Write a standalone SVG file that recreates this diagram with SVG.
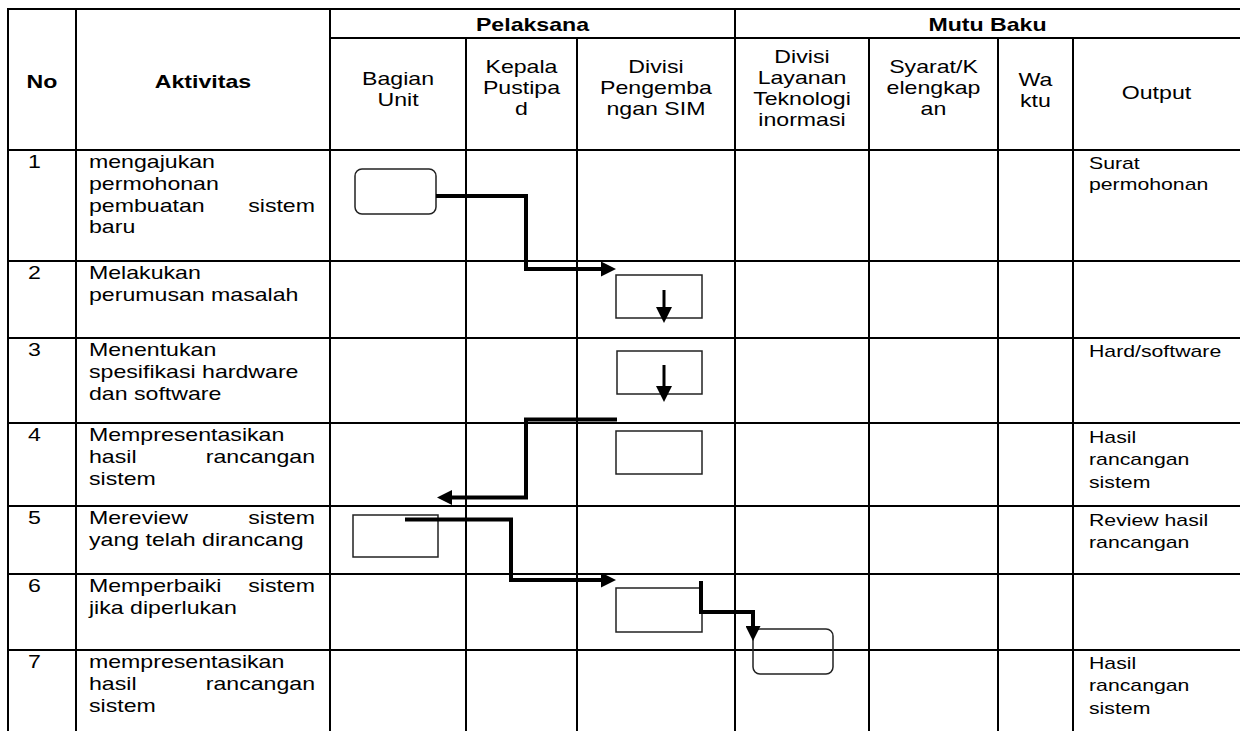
<svg xmlns="http://www.w3.org/2000/svg" width="1240" height="731" viewBox="0 0 1240 731">
  <style>
    text { font-family: "Liberation Sans", Arial, sans-serif; fill: #000; }
    .h { font-size: 18.5px; text-anchor: middle; }
    .hb { font-size: 18.5px; font-weight: bold; text-anchor: middle; }
    .b { font-size: 18.5px; }
    .e { font-size: 18.5px; text-anchor: end; }
    .o { font-size: 17px; }
    .grid line { stroke: #000; stroke-width: 2; }
    .box { fill: none; stroke: #222; stroke-width: 1.5; }
    .conn { fill: none; stroke: #000; stroke-width: 4; }
    .small { fill: none; stroke: #000; stroke-width: 3; }
  </style>
  <defs>
    <marker id="ah" viewBox="0 0 15 15" refX="0" refY="7.5" markerWidth="15" markerHeight="15" markerUnits="userSpaceOnUse" orient="auto">
      <path d="M0,0 L15,7.5 L0,15 z" fill="#000"/>
    </marker>
    <marker id="ahs" viewBox="0 0 16 16" refX="0" refY="8" markerWidth="16" markerHeight="16" markerUnits="userSpaceOnUse" orient="auto">
      <path d="M0,0 L16,8 L0,16 z" fill="#000"/>
    </marker>
  </defs>
  <rect width="1240" height="731" fill="#fff"/>

  <g id="grid" class="grid">
    <line x1="7" y1="9" x2="1240" y2="9"/>
    <line x1="330" y1="38" x2="1240" y2="38"/>
    <line x1="7" y1="150" x2="1240" y2="150"/>
    <line x1="7" y1="261" x2="1240" y2="261"/>
    <line x1="7" y1="338" x2="1240" y2="338"/>
    <line x1="7" y1="423" x2="1240" y2="423"/>
    <line x1="7" y1="506" x2="1240" y2="506"/>
    <line x1="7" y1="574" x2="1240" y2="574"/>
    <line x1="7" y1="650" x2="1240" y2="650"/>
    <line x1="8" y1="8" x2="8" y2="731"/>
    <line x1="76" y1="8" x2="76" y2="731"/>
    <line x1="330" y1="8" x2="330" y2="731"/>
    <line x1="466" y1="38" x2="466" y2="731"/>
    <line x1="577" y1="38" x2="577" y2="731"/>
    <line x1="735" y1="8" x2="735" y2="731"/>
    <line x1="869" y1="38" x2="869" y2="731"/>
    <line x1="998" y1="38" x2="998" y2="731"/>
    <line x1="1073" y1="38" x2="1073" y2="731"/>
  </g>

  <g id="header" transform="scale(1.25 1)">
    <text class="hb" x="33.6" y="88">No</text>
    <text class="hb" x="162.4" y="88">Aktivitas</text>
    <text class="hb" x="426" y="31">Pelaksana</text>
    <text class="hb" x="790" y="31">Mutu Baku</text>
    <text class="h" x="318.4" y="85">Bagian</text>
    <text class="h" x="318.4" y="106.5">Unit</text>
    <text class="h" x="417.2" y="73.5">Kepala</text>
    <text class="h" x="417.2" y="94.5">Pustipa</text>
    <text class="h" x="417.2" y="115.5">d</text>
    <text class="h" x="524.8" y="73.5">Divisi</text>
    <text class="h" x="524.8" y="94.5">Pengemba</text>
    <text class="h" x="524.8" y="115.5">ngan SIM</text>
    <text class="h" x="641.6" y="63">Divisi</text>
    <text class="h" x="641.6" y="84">Layanan</text>
    <text class="h" x="641.6" y="105">Teknologi</text>
    <text class="h" x="641.6" y="126">inormasi</text>
    <text class="h" x="746.8" y="73.5">Syarat/K</text>
    <text class="h" x="746.8" y="94.5">elengkap</text>
    <text class="h" x="746.8" y="115.5">an</text>
    <text class="h" x="828.4" y="86">Wa</text>
    <text class="h" x="828.4" y="107">ktu</text>
    <text class="h" x="925.2" y="99">Output</text>
  </g>

  <g id="row1" transform="scale(1.25 1)">
    <text class="b" x="22.4" y="168">1</text>
    <text class="b" x="71.2" y="168">mengajukan</text>
    <text class="b" x="71.2" y="189.8">permohonan</text>
    <text class="b" x="71.2" y="211.6">pembuatan</text>
    <text class="e" x="252" y="211.6">sistem</text>
    <text class="b" x="71.2" y="233.4">baru</text>
    <text class="o" x="871.2" y="169">Surat</text>
    <text class="o" x="871.2" y="190">permohonan</text>
  </g>
  <g id="row2" transform="scale(1.25 1)">
    <text class="b" x="22.4" y="279.5">2</text>
    <text class="b" x="71.2" y="279.5">Melakukan</text>
    <text class="b" x="71.2" y="301.2">perumusan masalah</text>
  </g>
  <g id="row3" transform="scale(1.25 1)">
    <text class="b" x="22.4" y="356.5">3</text>
    <text class="b" x="71.2" y="356.5">Menentukan</text>
    <text class="b" x="71.2" y="378.2">spesifikasi hardware</text>
    <text class="b" x="71.2" y="399.9">dan software</text>
    <text class="o" x="871.2" y="357">Hard/software</text>
  </g>
  <g id="row4" transform="scale(1.25 1)">
    <text class="b" x="22.4" y="441.5">4</text>
    <text class="b" x="71.2" y="441.5">Mempresentasikan</text>
    <text class="b" x="71.2" y="463.2">hasil</text>
    <text class="e" x="252" y="463.2">rancangan</text>
    <text class="b" x="71.2" y="484.9">sistem</text>
    <text class="o" x="871.2" y="443">Hasil</text>
    <text class="o" x="871.2" y="465.5">rancangan</text>
    <text class="o" x="871.2" y="488">sistem</text>
  </g>
  <g id="row5" transform="scale(1.25 1)">
    <text class="b" x="22.4" y="524.5">5</text>
    <text class="b" x="71.2" y="524.5">Mereview</text>
    <text class="e" x="252" y="524.5">sistem</text>
    <text class="b" x="71.2" y="546.2">yang telah dirancang</text>
    <text class="o" x="871.2" y="526">Review hasil</text>
    <text class="o" x="871.2" y="548.5">rancangan</text>
  </g>
  <g id="row6" transform="scale(1.25 1)">
    <text class="b" x="22.4" y="592.5">6</text>
    <text class="b" x="71.2" y="592.5">Memperbaiki</text>
    <text class="e" x="252" y="592.5">sistem</text>
    <text class="b" x="71.2" y="614.2">jika diperlukan</text>
  </g>
  <g id="row7" transform="scale(1.25 1)">
    <text class="b" x="22.4" y="668.5">7</text>
    <text class="b" x="71.2" y="668.5">mempresentasikan</text>
    <text class="b" x="71.2" y="690.5">hasil</text>
    <text class="e" x="252" y="690.5">rancangan</text>
    <text class="b" x="71.2" y="712.5">sistem</text>
    <text class="o" x="871.2" y="669">Hasil</text>
    <text class="o" x="871.2" y="691.5">rancangan</text>
    <text class="o" x="871.2" y="714">sistem</text>
  </g>

  <g id="box1"><rect class="box" x="355" y="169" width="81" height="45" rx="7"/></g>
  <g id="box2"><rect class="box" x="616" y="275" width="86" height="43"/></g>
  <g id="box3"><rect class="box" x="617" y="351" width="85" height="43"/></g>
  <g id="box4"><rect class="box" x="616" y="431" width="86" height="43"/></g>
  <g id="box5"><rect class="box" x="353" y="515" width="85" height="42"/></g>
  <g id="box6"><rect class="box" x="616" y="588" width="86" height="44"/></g>
  <g id="box7"><rect class="box" x="753" y="629" width="80" height="45" rx="7"/></g>

  <g id="connectors">
    <path class="conn" d="M436,196 H526 V269 H601" marker-end="url(#ah)"/>
    <path class="small" d="M664,290 V307" marker-end="url(#ahs)"/>
    <path class="small" d="M664,365 V386" marker-end="url(#ahs)"/>
    <path class="conn" d="M617,419.5 H526 V497.5 H452" marker-end="url(#ah)"/>
    <path class="conn" d="M405,519.5 H511 V580 H601" marker-end="url(#ah)"/>
    <path class="conn" d="M701,581 V612 H753 V626" marker-end="url(#ah)"/>
  </g>
</svg>
